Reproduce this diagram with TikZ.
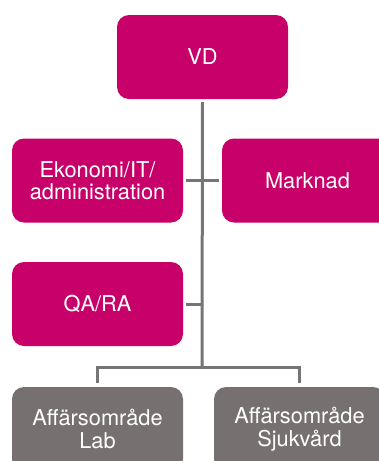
\documentclass[tikz,border=0pt]{standalone}
\usepackage{fontspec}
\setmainfont{TeX Gyre Heros}
\usetikzlibrary{calc}
\definecolor{mag}{HTML}{C7006A}
\definecolor{boxgray}{HTML}{767170}
\definecolor{linegray}{HTML}{757575}
\begin{document}
\begin{tikzpicture}[x=1pt,y=-1pt,
  box/.style={rounded corners=12pt, minimum width=171pt, minimum height=84pt, inner sep=0pt,
    text=white, align=center, font=\fontsize{21.8}{22.5}\selectfont},
  magbox/.style={box, fill=mag},
  graybox/.style={box, fill=boxgray},
  conn/.style={draw=linegray, line width=3pt}]
\useasboundingbox (0,0) rectangle (379,461);
\clip (0,0) rectangle (379,461);
\node[magbox] (vd) at (202.5,57) {VD};
\node[magbox] (eko) at (97.5,180.5) {Ekonomi/IT/\\administration};
\node[magbox] (mark) at (307.5,180.5) {Marknad};
\node[magbox] (qa) at (97.5,304) {QA/RA};
\node[graybox] (lab) at (97.5,429) {Affärsområde\\Lab};
\node[graybox] (sjuk) at (299.5,429) {Affärsområde\\Sjukvård};
\coordinate (j) at (202,367);
\draw[conn] ($(vd.south)+(0,3)$) -- (j);
\draw[conn] ($(eko.east)+(3,0)$) -- ($(mark.west)+(-3,0)$);
\draw[conn] ($(qa.east)+(3,0)$) -- (qa.east -| j);
\draw[conn] ($(lab.north)+(0,-4)$) |- (j) -| ($(sjuk.north)+(0,-4)$);
\end{tikzpicture}
\end{document}
